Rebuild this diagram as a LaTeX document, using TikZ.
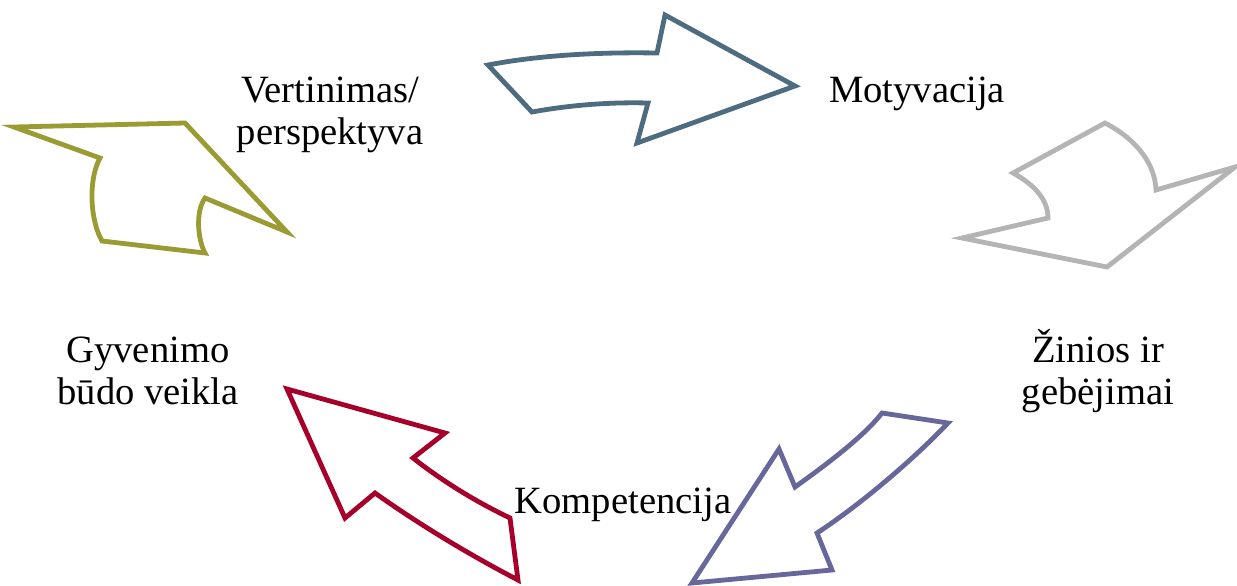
\documentclass[tikz,border=0pt]{standalone}
\usepackage{fontspec}
\setmainfont{Liberation Serif}
\definecolor{cblue}{HTML}{4E6C80}
\definecolor{cgray}{HTML}{B4B4B4}
\definecolor{cpurple}{HTML}{67679B}
\definecolor{cred}{HTML}{A6002A}
\definecolor{colive}{HTML}{9B9B33}
\begin{document}
\begin{tikzpicture}[x=0.5pt,y=-0.5pt,
  arrowshape/.style={line width=2.4pt,fill=white},
  lbl/.style={align=center,font=\fontsize{19.3}{21}\selectfont,inner sep=0pt}]
\useasboundingbox (0,0) rectangle (1237,585);
% blue arrow
\draw[arrowshape,draw=cblue] (488,65) .. controls (540,55) and (600,52) .. (657,53)
  -- (665,15) -- (795,86) -- (637,143) -- (648,103)
  .. controls (610,102) and (570,105) .. (532,112) -- cycle;
% gray arrow
\draw[arrowshape,draw=cgray] (1105,123) .. controls (1138,140) and (1155,165) .. (1156,190)
  -- (1235,167) -- (1107,267) -- (962,238) -- (1048,218)
  .. controls (1048,200) and (1035,185) .. (1013,173) -- cycle;
% purple arrow
\draw[arrowshape,draw=cpurple] (882,413) -- (948,423)
  .. controls (915,458) and (860,505) .. (817,533)
  -- (832,570) -- (692,583) -- (779,449) -- (795,487)
  .. controls (830,462) and (865,435) .. (882,413) -- cycle;
% red arrow
\draw[arrowshape,draw=cred] (287,389) -- (445,433) -- (413,458)
  .. controls (450,487) and (485,506) .. (510,518)
  -- (518,580)
  .. controls (470,555) and (420,525) .. (375,493)
  -- (345,518) -- cycle;
% olive arrow
\draw[arrowshape,draw=colive] (14,127) -- (185,123) -- (287,232) -- (205,198)
  .. controls (195,212) and (198,240) .. (205,253)
  -- (102,241)
  .. controls (90,220) and (88,180) .. (100,158) -- cycle;
% labels
\node[lbl] (vert) at (330,115) {Vertinimas/\\perspektyva};
\node[lbl] (moty) at (917,94) {Motyvacija};
\node[lbl] (zin) at (1098,371) {Žinios ir\\gebėjimai};
\node[lbl] (komp) at (623,505) {Kompetencija};
\node[lbl] (gyv) at (148,371) {Gyvenimo\\būdo veikla};
\end{tikzpicture}
\end{document}
